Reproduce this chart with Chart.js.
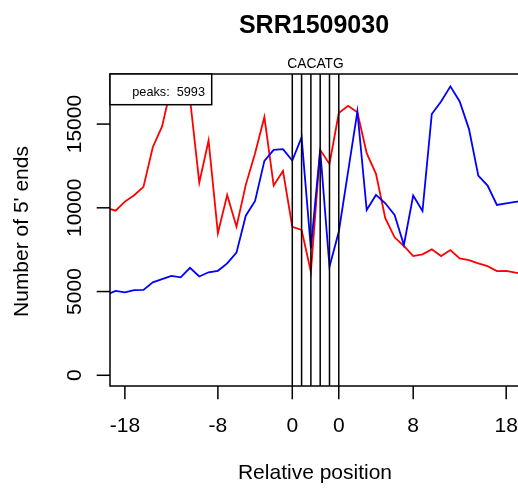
<!DOCTYPE html>
<html><head><meta charset="utf-8">
<style>
html,body{margin:0;padding:0;overflow:hidden;background:#fff;width:518px;height:489px}
#wrap{width:518px;height:489px;overflow:hidden;position:relative}
canvas{display:block}
</style>
<script src="https://cdn.jsdelivr.net/npm/chart.js@4.4.0/dist/chart.umd.min.js"></script>
</head><body><div id="wrap"><canvas id="c" width="560" height="489"></canvas></div>
<script>
const chartTitle = 'SRR1509030';
const xAxisTitle = 'Relative position';
const yAxisTitle = "Number of 5' ends";
const motifLabel = 'CACATG';
const legendText = 'peaks:  5993';

// plotting index: left flank -20..0, motif 0..5, right flank 5..25 (right position = index - 5)
const xIndex = [-20,-19,-18,-17,-16,-15,-14,-13,-12,-11,-10,-9,-8,-7,-6,-5,-4,-3,-2,-1,0,
                1,2,3,4,5,6,7,8,9,10,11,12,13,14,15,16,17,18,19,20,21,22,23,24,25];
const blueValues = [4800,5040,4950,5090,5100,5550,5740,5940,5850,6420,5900,6150,6240,6680,7320,9530,10410,12800,13460,13500,12820,
                    14200,7580,13460,6480,8570,12160,15750,9870,10770,10270,9570,7780,10730,9810,15600,16350,17250,16350,14700,11920,11330,10170,10260,10350,10430];
const redValues = [10000,9830,10370,10750,11250,13620,14860,17300,16900,16530,11500,14020,8480,10770,8870,11370,13260,15420,11330,12200,8870,
                   8680,6180,13460,12620,15660,16090,15700,13260,12030,9380,8240,7720,7120,7220,7520,7120,7480,6980,6880,6680,6520,6220,6240,6130,6070];
const xTickPos = [-18,-8,0,5,13,23];
const xTickLabels = ['-18','-8','0','0','8','18'];
const yTicks = [0,5000,10000,15000];
const yTickLabels = ['0','5000','10000','15000'];
const motifPos = [0,1,2,3,4,5];

const FONT = '"Liberation Sans", Arial, Helvetica, sans-serif';

const decor = {
  id: 'decor',
  afterDatasetsDraw(chart) {
    const ctx = chart.ctx, a = chart.chartArea;
    const xs = chart.scales.x, ys = chart.scales.y;
    ctx.save();
    ctx.strokeStyle = '#000';
    ctx.fillStyle = '#000';
    ctx.lineWidth = 1.5;
    // motif lines
    motifPos.forEach(p => {
      const x = xs.getPixelForValue(p);
      ctx.beginPath(); ctx.moveTo(x, a.top); ctx.lineTo(x, a.bottom); ctx.stroke();
    });
    // box
    ctx.strokeRect(a.left, a.top, a.right - a.left, a.bottom - a.top);
    // y ticks
    ctx.font = '21px ' + FONT;
    ctx.textAlign = 'center';
    ctx.textBaseline = 'alphabetic';
    yTicks.forEach((v, i) => {
      const y = ys.getPixelForValue(v);
      ctx.beginPath(); ctx.moveTo(a.left - 13.3, y); ctx.lineTo(a.left, y); ctx.stroke();
      ctx.save(); ctx.translate(80.5, y); ctx.rotate(-Math.PI / 2);
      ctx.fillText(yTickLabels[i], 0, 0); ctx.restore();
    });
    // x ticks
    xTickPos.forEach((p, i) => {
      const x = xs.getPixelForValue(p);
      ctx.beginPath(); ctx.moveTo(x, a.bottom); ctx.lineTo(x, a.bottom + 13.3); ctx.stroke();
      ctx.fillText(xTickLabels[i], x, 431.5);
    });
    // axis titles
    const cx = (xs.getPixelForValue(0) + xs.getPixelForValue(5)) / 2;
    ctx.fillText(xAxisTitle, 315, 479.3);
    ctx.save(); ctx.translate(28.3, 231.5); ctx.rotate(-Math.PI / 2);
    ctx.fillText(yAxisTitle, 0, 0); ctx.restore();
    // main title
    ctx.font = 'bold 25px ' + FONT;
    ctx.fillText(chartTitle, 314, 33.3);
    // motif label
    ctx.font = '13.8px ' + FONT;
    ctx.fillText(motifLabel, cx, 68.3);
    // legend
    ctx.fillStyle = '#fff';
    ctx.fillRect(a.left, a.top, 101.7, 30.7);
    ctx.strokeRect(a.left, a.top, 101.7, 30.7);
    ctx.fillStyle = '#000';
    ctx.textAlign = 'left';
    ctx.font = '12.7px ' + FONT;
    ctx.fillText(legendText, 132.3, 95.5);
    ctx.restore();
  }
};

new Chart(document.getElementById('c'), {
  type: 'line',
  data: {
    datasets: [
      { label: 'blue', data: xIndex.map((x, i) => ({x, y: blueValues[i]})), borderColor: '#0000ff', borderWidth: 1.8, pointRadius: 0, tension: 0, fill: false },
      { label: 'red', data: xIndex.map((x, i) => ({x, y: redValues[i]})), borderColor: '#ff0000', borderWidth: 1.8, pointRadius: 0, tension: 0, fill: false }
    ]
  },
  options: {
    responsive: false,
    animation: false,
    devicePixelRatio: 1,
    layout: { padding: { left: 110, right: 30, top: 74, bottom: 103 } },
    plugins: { legend: { display: false }, title: { display: false }, tooltip: { enabled: false } },
    scales: {
      x: { type: 'linear', display: false, min: -19.6, max: 25.56 },
      y: { type: 'linear', display: false, min: -640, max: 17990 }
    }
  },
  plugins: [decor]
});
</script>
</body></html>
